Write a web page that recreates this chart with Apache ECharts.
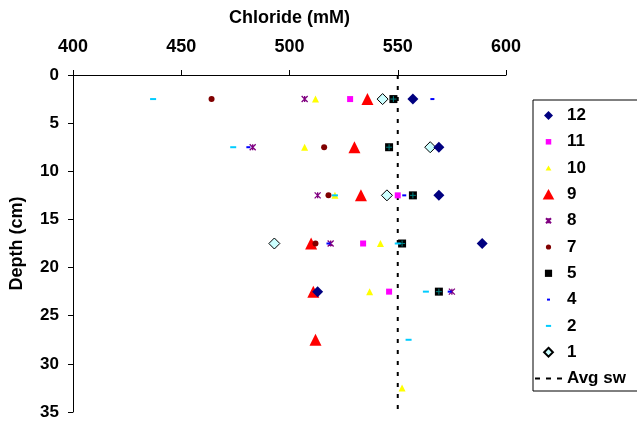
<!DOCTYPE html>
<html><head><meta charset="utf-8">
<script src="https://cdn.jsdelivr.net/npm/echarts@6/dist/echarts.min.js"></script>
<style>html,body{margin:0;padding:0;background:#fff}#c{width:637px;height:423px}</style>
</head><body><div id="c"></div>
<script>
const depths = [2.5, 7.5, 12.5, 17.5, 22.5, 27.5, 32.5];
const s12 = [557, 569, 569, 589, 513, null, null];
const s11 = [528, null, 550, 534, 546, null, null];
const s10 = [512, 507, 521, 542, 537, null, 552];
const s9  = [536, 530, 533, 510, 511, 512, null];
const s8  = [507, 483, 513, 519, 575, null, null];
const s7  = [464, 516, 518, 512, null, null, null];
const s5  = [548, 546, 557, 552, 569, null, null];
const s4  = [566, 481, 553, 518, 574, null, null];
const s2  = [437, 474, 521, 550, 563, 555, null];
const s1  = [543, 565, 545, 493, null, null, null];
const avgSw = 550;
const xTicks = [400, 450, 500, 550, 600];
const yTicks = [0, 5, 10, 15, 20, 25, 30, 35];
const legendOrder = ['12','11','10','9','8','7','5','4','2','1','Avg sw'];

const F = '"Liberation Sans", Arial, sans-serif';
const FR = 'M0,0 M12,12 ';
const icons = {
  '12': FR + 'M6,1.5 L10.5,6 L6,10.5 L1.5,6 Z',
  '11': FR + 'M3.25,3.25 L8.75,3.25 L8.75,8.75 L3.25,8.75 Z',
  '10': FR + 'M6,3.3 L8.9,8.5 L3.1,8.5 Z',
  '9':  FR + 'M6,0.5 L11.8,11 L0.2,11 Z',
  '8':  FR + 'M3.5,3.5 L8.5,8.5 M8.5,3.5 L3.5,8.5 M6,3.5 L6,8.5',
  '7':  FR + 'M3.4,6 A2.6,2.6 0 1 1 8.6,6 A2.6,2.6 0 1 1 3.4,6 Z',
  '5':  FR + 'M2.4,2.4 L9.6,2.4 L9.6,9.6 L2.4,9.6 Z',
  '4':  FR + 'M4.5,5 L7.5,5 L7.5,7 L4.5,7 Z',
  '2':  FR + 'M3.4,5 L8.6,5 L8.6,7 L3.4,7 Z',
  '1':  FR + 'M6,1.6 L10.4,6 L6,10.4 L1.6,6 Z',
  'Avg sw': 'M0,0 M27,12 M0,5 L5,5 L5,7 L0,7 Z M11,5 L16,5 L16,7 L11,7 Z M22,5 L27,5 L27,7 L22,7 Z'
};

function pts(arr){ const o=[]; arr.forEach((v,i)=>{ if(v!=null) o.push([v, depths[i]]); }); return o; }
function sc(name, arr, symbol, size, color, extra){
  return Object.assign({type:'scatter', name, data:pts(arr), symbol, symbolSize:size,
    itemStyle:{color, opacity:1}, emphasis:{disabled:true}}, extra||{});
}
const series = [
  sc('1', s1, 'diamond', 11, '#ccffff', {itemStyle:{color:'#ccffff', borderColor:'#000', borderWidth:1, opacity:1}}),
  sc('9', s9, 'triangle', 12, '#ff0000'),
  sc('10', s10, 'triangle', 7, '#ffff00'),
  sc('11', s11, 'rect', 6, '#ff00ff'),
  sc('12', s12, 'diamond', 11, '#000080'),
  sc('8', s8, 'path://M0,0 L10,10 M10,0 L0,10 M5,0 L5,10', 6, '#800080', {itemStyle:{color:'#800080', borderColor:'#800080', borderWidth:1.3, opacity:1}}),
  sc('7', s7, 'circle', 6, '#800000'),
  sc('5', s5, 'rect', 8, '#000000'),
  sc('5', s5, 'path://M0,5 L10,5 M5,0 L5,10', 6, '#008080', {itemStyle:{color:'#008080', borderColor:'#008080', borderWidth:1, opacity:1}}),
  sc('4', s4, 'rect', [4,2], '#0000ff'),
  sc('2', s2, 'rect', [6,2], '#00ccff'),
  {type:'line', name:'Avg sw', data:[[avgSw, yTicks[0]],[avgSw, yTicks[yTicks.length-1]]], symbol:'none',
   lineStyle:{color:'#000', width:2, type:[4,7]}, itemStyle:{color:'#000'}, emphasis:{disabled:true}, z:1}
];
const chart = echarts.init(document.getElementById('c'), null, {renderer:'canvas'});
chart.setOption({
  animation:false,
  backgroundColor:'#fff',
  grid:{left:73, top:75, width:433, height:337},
  xAxis:{type:'value', position:'top', min:xTicks[0], max:xTicks[xTicks.length-1], interval:50,
    name:'Chloride (mM)', nameLocation:'middle', nameGap:48,
    nameTextStyle:{fontFamily:F, fontWeight:'bold', fontSize:18, color:'#000'},
    axisLine:{show:true, lineStyle:{color:'#000', width:1}},
    axisTick:{show:true, inside:false, length:5, lineStyle:{color:'#000'}},
    axisLabel:{fontFamily:F, fontWeight:'bold', fontSize:18, color:'#000', margin:19},
    splitLine:{show:false}},
  yAxis:{type:'value', inverse:true, min:yTicks[0], max:yTicks[yTicks.length-1], interval:5,
    name:'Depth (cm)', nameLocation:'middle', nameGap:47, nameRotate:90,
    nameTextStyle:{fontFamily:F, fontWeight:'bold', fontSize:18, color:'#000'},
    axisLine:{show:true, onZero:false, lineStyle:{color:'#000', width:1}},
    axisTick:{show:true, length:5, lineStyle:{color:'#000'}},
    axisLabel:{fontFamily:F, fontWeight:'bold', fontSize:17, color:'#000', margin:14},
    splitLine:{show:false}},
  legend:{orient:'vertical', left:533, top:100, height:300, padding:[7,40,4,2], itemGap:9.3,
    itemWidth:27, itemHeight:12, itemTextGap:9,
    borderColor:'#000', borderWidth:1, backgroundColor:'#fff',
    textStyle:{fontFamily:F, fontWeight:'bold', fontSize:17, color:'#000'},
    data:legendOrder.map(n => ({name:n, icon:'path://' + icons[n], itemStyle: n === 'Avg sw' ? {color:'#000', borderWidth:0} : undefined}))},
  series
});
</script></body></html>
